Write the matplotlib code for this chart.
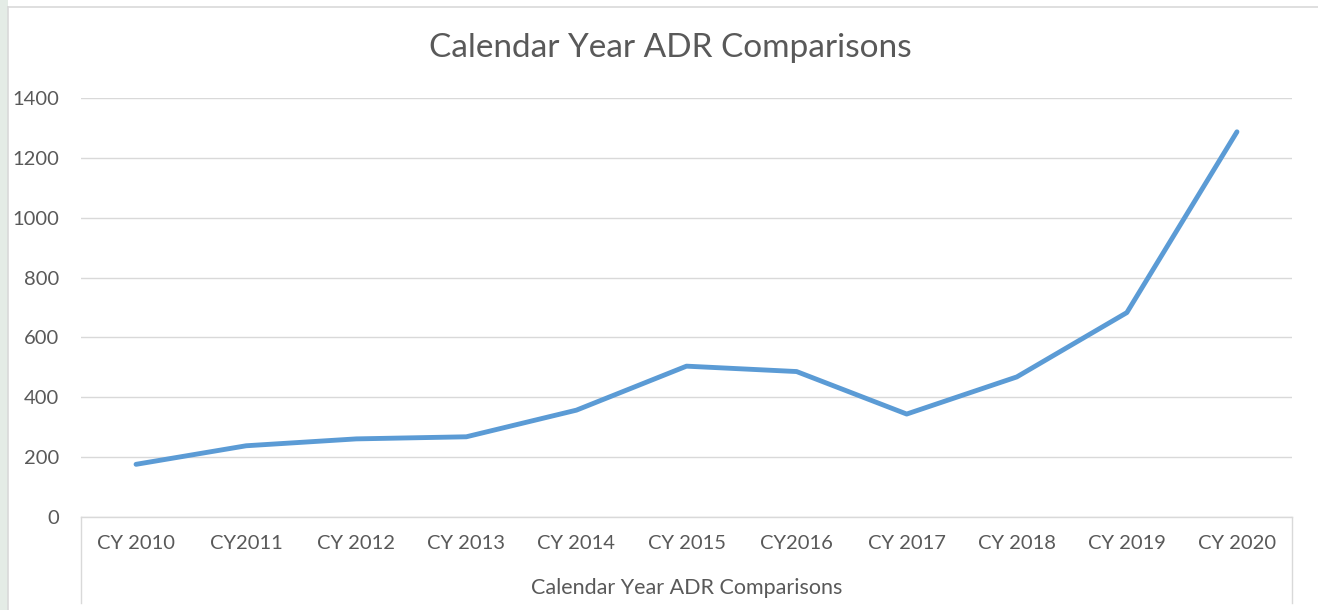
import matplotlib.pyplot as plt
from matplotlib.lines import Line2D
from matplotlib.patches import Rectangle

years = ["CY 2010", "CY2011", "CY 2012", "CY 2013", "CY 2014", "CY 2015",
         "CY2016", "CY 2017", "CY 2018", "CY 2019", "CY 2020"]
adr = [176, 238, 261, 268, 357, 504, 486, 344, 468, 683, 1287]
y_ticks = [0, 200, 400, 600, 800, 1000, 1200, 1400]

GREY_TXT = "#595959"
GRID = "#D9D9D9"
BLUE = "#5B9BD5"

plt.rcParams["font.family"] = ["Lato", "DejaVu Sans"]

W, H = 1318, 610
fig = plt.figure(figsize=(W / 100, H / 100), dpi=100)
fig.patch.set_facecolor("white")

# pale green strip behind the chart on the left
fig.add_artist(Rectangle((0, 0), 8 / W, 1, transform=fig.transFigure,
                         facecolor="#E4ECE6", edgecolor="none"))
# chart area border (top and left visible)
fig.add_artist(Line2D([8 / W, 1], [1 - 7 / H, 1 - 7 / H], transform=fig.transFigure,
                      color=GRID, lw=1.2))
fig.add_artist(Line2D([8 / W, 8 / W], [0, 1 - 7 / H], transform=fig.transFigure,
                      color=GRID, lw=1.2))

left, right = 81 / W, 1292 / W
bottom, top = (H - 517) / H, (H - 98) / H
ax = fig.add_axes([left, bottom, right - left, top - bottom])

x = list(range(len(years)))
ax.plot(x, adr, color=BLUE, lw=3.5, solid_capstyle="round", solid_joinstyle="round", zorder=3)

ax.set_xlim(-0.5, len(years) - 0.5)
ax.set_ylim(0, 1400)
ax.set_yticks(y_ticks)
ax.set_yticklabels([str(v) for v in y_ticks])
ax.set_xticks(x)
ax.set_xticklabels(years)
ax.yaxis.grid(True, color=GRID, lw=1.0)
ax.set_axisbelow(True)
for s in ["top", "right", "left"]:
    ax.spines[s].set_visible(False)
ax.spines["bottom"].set_color(GRID)
ax.spines["bottom"].set_linewidth(1.0)
ax.tick_params(axis="both", length=0, colors=GREY_TXT, labelsize=14.5)
ax.tick_params(axis="y", pad=16)
ax.tick_params(axis="x", pad=13)

# category axis box
box_bottom = (517 - 603) / 419
for xx in [0, 1]:
    ax.add_line(Line2D([xx, xx], [0, box_bottom], transform=ax.transAxes,
                       color=GRID, lw=1.0, clip_on=False))
ax.text(0.5, (517 - 588) / 419, "Calendar Year ADR Comparisons", transform=ax.transAxes,
        ha="center", va="center", color=GREY_TXT, fontsize=15.5)

fig.text((428 + 913) / 2 / W, 1 - 48 / H, "Calendar Year ADR Comparisons",
         ha="center", va="center", color=GREY_TXT, fontsize=24)

fig.savefig("out.png", dpi=100, facecolor=fig.get_facecolor())
